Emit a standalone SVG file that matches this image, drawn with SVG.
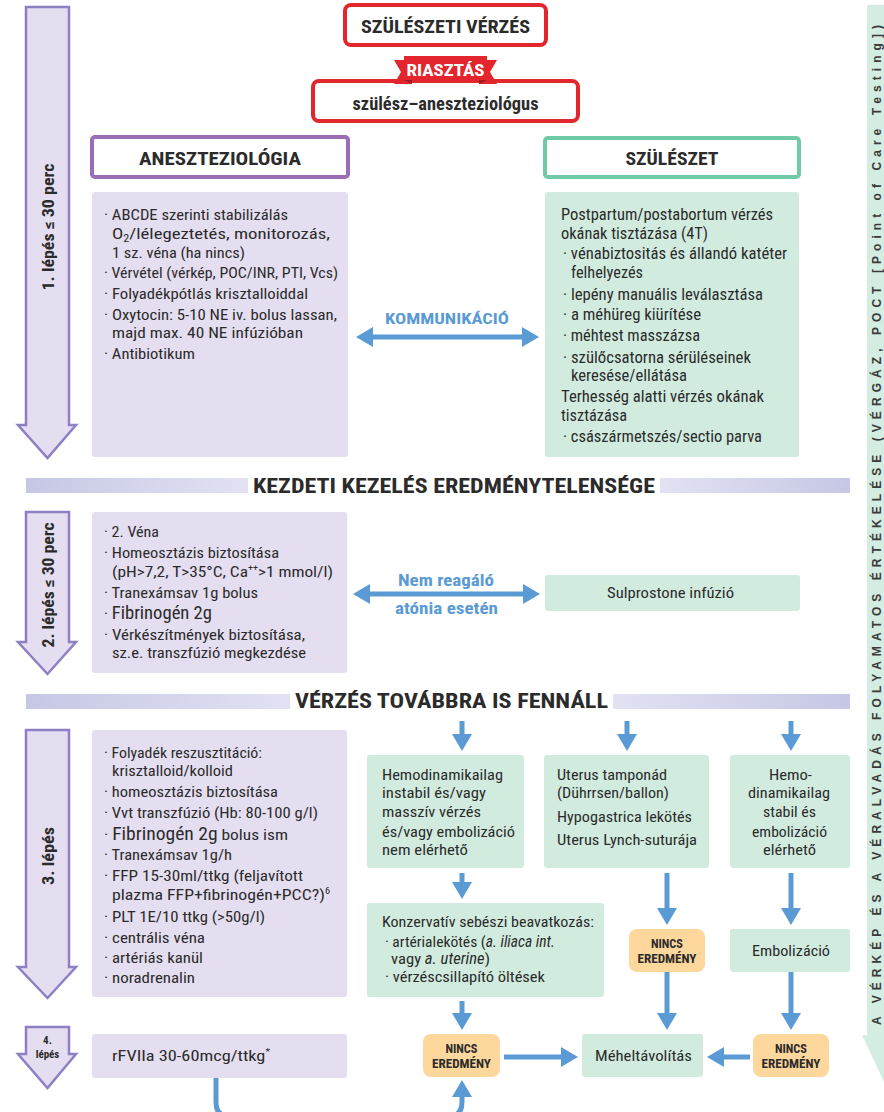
<svg xmlns="http://www.w3.org/2000/svg" width="884" height="1112" viewBox="0 0 884 1112">
<style>
.t{font-family:"Liberation Sans Narrow","Roboto Condensed","DejaVu Sans Condensed","Liberation Sans",sans-serif;font-size:15.5px;fill:#2b2b2b}
.g{font-size:16px}
.b{font-weight:bold}
.c{text-anchor:middle}
.big{font-size:17.5px}
.sm{font-size:11px;font-weight:bold}
.nc{font-size:13px;font-weight:bold}
.blue{fill:#5b9bd5;font-weight:bold}
.lav{fill:#e4def0}
.grn{fill:#d2ebdf}
.org{fill:#fdd79c}
.step{fill:#e4def0;stroke:#8e80c4;stroke-width:2.5}
.red{fill:#fff;stroke:#e3262e;stroke-width:4}
.con{fill:none;stroke:#5b9bd5;stroke-width:5}
.side{font-family:"Liberation Sans","DejaVu Sans",sans-serif;font-size:12px;font-weight:bold;fill:#3a3a3a}
</style>
<defs>
<marker id="ah" markerUnits="userSpaceOnUse" markerWidth="18" markerHeight="20" viewBox="0 0 18 20" refX="2" refY="10" orient="auto-start-reverse">
<path d="M0,0 L17,10 L0,20 z" fill="#5b9bd5"/>
</marker>
<linearGradient id="bandL" x1="0" x2="1" y1="0" y2="0"><stop offset="0" stop-color="#c6c7e5"/><stop offset="1" stop-color="#e2e2f3"/></linearGradient>
<linearGradient id="bandR" x1="0" x2="1" y1="0" y2="0"><stop offset="0" stop-color="#e2e2f3"/><stop offset="1" stop-color="#c6c7e5"/></linearGradient>
</defs>

<!-- right side bar -->
<g id="side-bar">
<polygon points="867,5 884,5 884,1082 862,1035 867,1035" fill="#d3ede2"/>
<text class="side" transform="translate(880.5,1025) rotate(-90)" textLength="1000" lengthAdjust="spacing">A VÉRKÉP ÉS A VÉRALVADÁS FOLYAMATOS ÉRTÉKELÉSE (VÉRGÁZ, POCT [Point of Care Testing])</text>
</g>

<!-- step arrows -->
<g id="step1">
<polygon class="step" points="26,7 69,7 69,425 76,425 47.5,458 18,425 26,425"/>
<text class="t b" style="font-size:16px" text-anchor="middle" transform="translate(54,227) rotate(-90)" textLength="127" lengthAdjust="spacingAndGlyphs">1. lépés ≤ 30 perc</text>
</g>
<g id="step2">
<polygon class="step" points="26,512 69,512 69,642 76,642 47.5,674 18,642 26,642"/>
<text class="t b" style="font-size:16px" text-anchor="middle" transform="translate(54,585) rotate(-90)" textLength="125" lengthAdjust="spacingAndGlyphs">2. lépés ≤ 30 perc</text>
</g>
<g id="step3">
<polygon class="step" points="26,730 69,730 69,967 76,967 47.5,998 18,967 26,967"/>
<text class="t b" style="font-size:16px" text-anchor="middle" transform="translate(54,856) rotate(-90)" textLength="58" lengthAdjust="spacingAndGlyphs">3. lépés</text>
</g>
<g id="step4">
<polygon class="step" points="26,1027 69,1027 69,1054 76,1054 47.5,1088 18,1054 26,1054"/>
<text class="t c sm" x="47.5" y="1044">4.</text>
<text class="t c sm" x="47.5" y="1058">lépés</text>
</g>

<!-- top -->
<g id="szuleszeti-verzes">
<rect class="red" x="345" y="5" width="201" height="40" rx="6"/>
<text class="t b c" x="445.5" y="33" style="font-size:19px" textLength="169" lengthAdjust="spacingAndGlyphs">SZÜLÉSZETI VÉRZÉS</text>
</g>
<g id="szulesz-aneszteziologus">
<rect class="red" x="313" y="81" width="265" height="40" rx="6"/>
<text class="t b c" x="445.5" y="110" style="font-size:18px" textLength="186" lengthAdjust="spacingAndGlyphs">szülész–aneszteziológus</text>
</g>
<g id="riasztas">
<polygon points="394,60 412,60 412,84 394,84 401,72" fill="#e3262e"/>
<polygon points="497,60 479,60 479,84 497,84 490,72" fill="#e3262e"/>
<polygon points="404,80 412,80 412,84" fill="#9e1a20"/>
<polygon points="487,80 479,80 479,84" fill="#9e1a20"/>
<rect x="404" y="56" width="83" height="24" fill="#e3262e"/>
<text class="b c" x="445.5" y="76" style="font-family:'Liberation Sans Narrow','Roboto Condensed','Liberation Sans',sans-serif;font-size:17px;fill:#fff" textLength="78" lengthAdjust="spacingAndGlyphs">RIASZTÁS</text>
</g>

<!-- headers -->
<g id="aneszteziologia-header">
<rect x="92" y="137" width="256" height="40" rx="3" fill="#fff" stroke="#9b6db6" stroke-width="4"/>
<text class="t b c" x="220" y="165" style="font-size:18px" textLength="162" lengthAdjust="spacingAndGlyphs">ANESZTEZIOLÓGIA</text>
</g>
<g id="szuleszet-header">
<rect x="545" y="138" width="254" height="39" rx="3" fill="#fff" stroke="#6ecba6" stroke-width="4"/>
<text class="t b c" x="672" y="165" style="font-size:18px" textLength="93" lengthAdjust="spacingAndGlyphs">SZÜLÉSZET</text>
</g>

<!-- step 1 boxes -->
<g id="aneszteziologia-box">
<rect class="lav" x="92" y="192" width="256" height="265" rx="3"/>
<text class="t" x="104" y="220" textLength="184" lengthAdjust="spacingAndGlyphs">· ABCDE szerinti stabilizálás</text>
<text class="t" x="112" y="239" textLength="218" lengthAdjust="spacingAndGlyphs">O<tspan font-size="10" dy="3">2</tspan><tspan dy="-3">/lélegeztetés, monitorozás,</tspan></text>
<text class="t" x="112" y="258" textLength="133" lengthAdjust="spacingAndGlyphs">1 sz. véna (ha nincs)</text>
<text class="t" x="104" y="278" textLength="234" lengthAdjust="spacingAndGlyphs">· Vérvétel (vérkép, POC/INR, PTI, Vcs)</text>
<text class="t" x="104" y="299" textLength="204" lengthAdjust="spacingAndGlyphs">· Folyadékpótlás krisztalloiddal</text>
<text class="t" x="104" y="320" textLength="233" lengthAdjust="spacingAndGlyphs">· Oxytocin: 5-10 NE iv. bolus lassan,</text>
<text class="t" x="112" y="338" textLength="191" lengthAdjust="spacingAndGlyphs">majd max. 40 NE infúzióban</text>
<text class="t" x="104" y="359" textLength="91" lengthAdjust="spacingAndGlyphs">· Antibiotikum</text>
</g>
<g id="szuleszet-box">
<rect class="grn" x="545" y="192" width="254" height="265" rx="3"/>
<text class="t g" x="561" y="220" textLength="212" lengthAdjust="spacingAndGlyphs">Postpartum/postabortum vérzés</text>
<text class="t g" x="561" y="239" textLength="147" lengthAdjust="spacingAndGlyphs">okának tisztázása (4T)</text>
<text class="t g" x="563" y="259" textLength="224" lengthAdjust="spacingAndGlyphs">· vénabiztositás és állandó katéter</text>
<text class="t g" x="571" y="278" textLength="72" lengthAdjust="spacingAndGlyphs">felhelyezés</text>
<text class="t g" x="563" y="300" textLength="200" lengthAdjust="spacingAndGlyphs">· lepény manuális leválasztása</text>
<text class="t g" x="563" y="320" textLength="138" lengthAdjust="spacingAndGlyphs">· a méhüreg kiürítése</text>
<text class="t g" x="563" y="341" textLength="137" lengthAdjust="spacingAndGlyphs">· méhtest masszázsa</text>
<text class="t g" x="563" y="363" textLength="188" lengthAdjust="spacingAndGlyphs">· szülőcsatorna sérüléseinek</text>
<text class="t g" x="571" y="381" textLength="116" lengthAdjust="spacingAndGlyphs">keresése/ellátása</text>
<text class="t g" x="561" y="402" textLength="203" lengthAdjust="spacingAndGlyphs">Terhesség alatti vérzés okának</text>
<text class="t g" x="561" y="421" textLength="66" lengthAdjust="spacingAndGlyphs">tisztázása</text>
<text class="t g" x="563" y="442" textLength="199" lengthAdjust="spacingAndGlyphs">· császármetszés/sectio parva</text>
</g>
<g id="kommunikacio">
<text class="t c blue" x="447" y="324" textLength="124" lengthAdjust="spacingAndGlyphs">KOMMUNIKÁCIÓ</text>
</g>

<!-- bands -->
<g id="band-kezdeti">
<rect x="26" y="478" width="222" height="15" fill="url(#bandL)"/>
<rect x="660" y="478" width="190" height="15" fill="url(#bandR)"/>
<text class="t b" x="253" y="493" style="font-size:21px" textLength="402" lengthAdjust="spacingAndGlyphs">KEZDETI KEZELÉS EREDMÉNYTELENSÉGE</text>
</g>
<g id="band-verzes">
<rect x="26" y="694" width="264" height="15" fill="url(#bandL)"/>
<rect x="613" y="694" width="237" height="15" fill="url(#bandR)"/>
<text class="t b" x="295" y="708" style="font-size:20px" textLength="313" lengthAdjust="spacingAndGlyphs">VÉRZÉS TOVÁBBRA IS FENNÁLL</text>
</g>

<!-- step 2 -->
<g id="step2-box">
<rect class="lav" x="92" y="512" width="255" height="161" rx="3"/>
<text class="t" x="104" y="537" textLength="55" lengthAdjust="spacingAndGlyphs">· 2. Véna</text>
<text class="t" x="104" y="558" textLength="175" lengthAdjust="spacingAndGlyphs">· Homeosztázis biztosítása</text>
<text class="t" x="112" y="577" textLength="221" lengthAdjust="spacingAndGlyphs">(pH&gt;7,2, T&gt;35°C, Ca<tspan font-size="9" dy="-6">++</tspan><tspan dy="6">&gt;1 mmol/l)</tspan></text>
<text class="t" x="104" y="598" textLength="154" lengthAdjust="spacingAndGlyphs">· Tranexámsav 1g bolus</text>
<text class="t" x="104" y="619" textLength="108" lengthAdjust="spacingAndGlyphs">· <tspan class="big">Fibrinogén 2g</tspan></text>
<text class="t" x="104" y="640" textLength="201" lengthAdjust="spacingAndGlyphs">· Vérkészítmények biztosítása,</text>
<text class="t" x="112" y="658" textLength="194" lengthAdjust="spacingAndGlyphs">sz.e. transzfúzió megkezdése</text>
</g>
<g id="nem-reagalo">
<text class="t c blue" x="446" y="586" style="font-size:17px" textLength="96" lengthAdjust="spacingAndGlyphs">Nem reagáló</text>
<text class="t c blue" x="446.5" y="614" style="font-size:17px" textLength="103" lengthAdjust="spacingAndGlyphs">atónia esetén</text>
</g>
<g id="sulprostone">
<rect class="grn" x="545" y="575" width="255" height="36" rx="3"/>
<text class="t c" x="670.5" y="598" textLength="127" lengthAdjust="spacingAndGlyphs">Sulprostone infúzió</text>
</g>

<!-- step 3 -->
<g id="step3-box">
<rect class="lav" x="92" y="730" width="255" height="267" rx="3"/>
<text class="t" x="104" y="758" textLength="158" lengthAdjust="spacingAndGlyphs">· Folyadék reszusztitáció:</text>
<text class="t" x="112" y="776" textLength="121" lengthAdjust="spacingAndGlyphs">krisztalloid/kolloid</text>
<text class="t" x="104" y="797" textLength="174" lengthAdjust="spacingAndGlyphs">· homeosztázis biztosítása</text>
<text class="t" x="104" y="818" textLength="214" lengthAdjust="spacingAndGlyphs">· Vvt transzfúzió (Hb: 80-100 g/l)</text>
<text class="t" x="104" y="840" textLength="184" lengthAdjust="spacingAndGlyphs">· <tspan class="big">Fibrinogén 2g</tspan> bolus ism</text>
<text class="t" x="104" y="860" textLength="128" lengthAdjust="spacingAndGlyphs">· Tranexámsav 1g/h</text>
<text class="t" x="104" y="881" textLength="199" lengthAdjust="spacingAndGlyphs">· FFP 15-30ml/ttkg (feljavított</text>
<text class="t" x="112" y="900" textLength="218" lengthAdjust="spacingAndGlyphs">plazma FFP+fibrinogén+PCC?)<tspan font-size="9" dy="-6">6</tspan></text>
<text class="t" x="104" y="922" textLength="161" lengthAdjust="spacingAndGlyphs">· PLT 1E/10 ttkg (&gt;50g/l)</text>
<text class="t" x="104" y="943" textLength="101" lengthAdjust="spacingAndGlyphs">· centrális véna</text>
<text class="t" x="104" y="963" textLength="99" lengthAdjust="spacingAndGlyphs">· artériás kanül</text>
<text class="t" x="104" y="983" textLength="91" lengthAdjust="spacingAndGlyphs">· noradrenalin</text>
</g>
<g id="hemodinamikailag-instabil">
<rect class="grn" x="367" y="755" width="157" height="113" rx="3"/>
<text class="t" x="382" y="780" textLength="121" lengthAdjust="spacingAndGlyphs">Hemodinamikailag</text>
<text class="t" x="382" y="798" textLength="104" lengthAdjust="spacingAndGlyphs">instabil és/vagy</text>
<text class="t" x="382" y="817" textLength="99" lengthAdjust="spacingAndGlyphs">masszív vérzés</text>
<text class="t" x="382" y="837" textLength="133" lengthAdjust="spacingAndGlyphs">és/vagy embolizáció</text>
<text class="t" x="382" y="855" textLength="86" lengthAdjust="spacingAndGlyphs">nem elérhető</text>
</g>
<g id="uterus-tamponad">
<rect class="grn" x="544" y="755" width="165" height="113" rx="3"/>
<text class="t" x="557" y="780" textLength="110" lengthAdjust="spacingAndGlyphs">Uterus tamponád</text>
<text class="t" x="557" y="798" textLength="112" lengthAdjust="spacingAndGlyphs">(Dührrsen/ballon)</text>
<text class="t" x="557" y="822" textLength="135" lengthAdjust="spacingAndGlyphs">Hypogastrica lekötés</text>
<text class="t" x="557" y="845" textLength="140" lengthAdjust="spacingAndGlyphs">Uterus Lynch-suturája</text>
</g>
<g id="hemodinamikailag-stabil">
<rect class="grn" x="730" y="755" width="120" height="113" rx="3"/>
<text class="t c" x="790.5" y="780" textLength="43" lengthAdjust="spacingAndGlyphs">Hemo-</text>
<text class="t c" x="789" y="798" textLength="82" lengthAdjust="spacingAndGlyphs">dinamikailag</text>
<text class="t c" x="789.5" y="817" textLength="53" lengthAdjust="spacingAndGlyphs">stabil és</text>
<text class="t c" x="789.5" y="837" textLength="75" lengthAdjust="spacingAndGlyphs">embolizáció</text>
<text class="t c" x="789.5" y="855" textLength="53" lengthAdjust="spacingAndGlyphs">elérhető</text>
</g>
<g id="konzervativ">
<rect class="grn" x="367" y="903" width="237" height="94" rx="3"/>
<text class="t" x="382" y="927" textLength="212" lengthAdjust="spacingAndGlyphs">Konzervatív sebészi beavatkozás:</text>
<text class="t" x="385" y="947" textLength="170" lengthAdjust="spacingAndGlyphs">· artérialekötés (<tspan font-style="italic">a. iliaca int.</tspan></text>
<text class="t" x="391" y="964" textLength="99" lengthAdjust="spacingAndGlyphs">vagy <tspan font-style="italic">a. uterine</tspan>)</text>
<text class="t" x="385" y="982" textLength="160" lengthAdjust="spacingAndGlyphs">· vérzéscsillapító öltések</text>
</g>
<g id="nincs-mid">
<rect class="org" x="629" y="929" width="76" height="43" rx="8"/>
<text class="t c nc" x="667" y="948" textLength="32" lengthAdjust="spacingAndGlyphs">NINCS</text>
<text class="t c nc" x="667" y="963" textLength="59" lengthAdjust="spacingAndGlyphs">EREDMÉNY</text>
</g>
<g id="embolizacio">
<rect class="grn" x="730" y="929" width="120" height="43" rx="3"/>
<text class="t c" x="791" y="956" textLength="78" lengthAdjust="spacingAndGlyphs">Embolizáció</text>
</g>

<!-- step 4 -->
<g id="rfviia">
<rect class="lav" x="92" y="1034" width="255" height="44" rx="3"/>
<text class="t" x="112" y="1061" textLength="158" lengthAdjust="spacingAndGlyphs">rFVIIa 30-60mcg/ttkg<tspan font-size="9" dy="-6">*</tspan></text>
</g>
<g id="nincs-left">
<rect class="org" x="423" y="1034" width="77" height="43" rx="8"/>
<text class="t c nc" x="461.5" y="1053" textLength="32" lengthAdjust="spacingAndGlyphs">NINCS</text>
<text class="t c nc" x="461.5" y="1068" textLength="59" lengthAdjust="spacingAndGlyphs">EREDMÉNY</text>
</g>
<g id="meheltavolitas">
<rect class="grn" x="582" y="1034" width="121" height="43" rx="3"/>
<text class="t c" x="643.5" y="1061" textLength="97" lengthAdjust="spacingAndGlyphs">Méheltávolítás</text>
</g>
<g id="nincs-right">
<rect class="org" x="753" y="1034" width="76" height="43" rx="8"/>
<text class="t c nc" x="791" y="1053" textLength="32" lengthAdjust="spacingAndGlyphs">NINCS</text>
<text class="t c nc" x="791" y="1068" textLength="59" lengthAdjust="spacingAndGlyphs">EREDMÉNY</text>
</g>

<!-- connectors -->
<g id="connectors">
<line class="con" x1="371" y1="337" x2="524" y2="337" marker-start="url(#ah)" marker-end="url(#ah)"/>
<line class="con" x1="368" y1="594" x2="525" y2="594" marker-start="url(#ah)" marker-end="url(#ah)"/>
<line class="con" x1="462" y1="721" x2="462" y2="736" marker-end="url(#ah)"/>
<line class="con" x1="627" y1="721" x2="627" y2="736" marker-end="url(#ah)"/>
<line class="con" x1="791" y1="721" x2="791" y2="736" marker-end="url(#ah)"/>
<line class="con" x1="462" y1="873" x2="462" y2="884" marker-end="url(#ah)"/>
<line class="con" x1="667" y1="873" x2="667" y2="910" marker-end="url(#ah)"/>
<line class="con" x1="791" y1="873" x2="791" y2="910" marker-end="url(#ah)"/>
<line class="con" x1="462" y1="1001" x2="462" y2="1015" marker-end="url(#ah)"/>
<line class="con" x1="667" y1="972" x2="667" y2="1015" marker-end="url(#ah)"/>
<line class="con" x1="791" y1="972" x2="791" y2="1015" marker-end="url(#ah)"/>
<line class="con" x1="504" y1="1057" x2="563" y2="1057" marker-end="url(#ah)"/>
<line class="con" x1="750" y1="1057" x2="722" y2="1057" marker-end="url(#ah)"/>
<path class="con" d="M216,1078 V1102 Q216,1117 231,1117 H447 Q462,1117 462,1102 V1095" marker-end="url(#ah)"/>
</g>
</svg>
